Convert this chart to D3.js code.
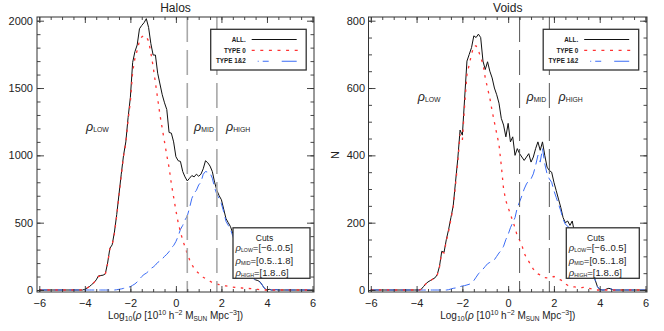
<!DOCTYPE html>
<html>
<head>
<meta charset="utf-8">
<script src="https://cdn.jsdelivr.net/npm/d3@7"></script>
<style>
body { margin: 0; background: #fff; }
svg text { font-family: "Liberation Sans", Arial, sans-serif; fill: #222; }
</style>
</head>
<body>
<svg id="chart" width="664" height="331"></svg>
<script>
// bins: log10(rho) from -4.2 to 4.6, step 0.1 (zero outside)
const binStart = -4.2, binStep = 0.1, binCount = 89;

const halosAll = [
  0, 0, 5, 15, 25, 40, 55, 75, 105, 108,
  110, 120, 200, 310, 335, 430, 560, 710, 860, 1000,
  1100, 1280, 1430, 1690, 1770, 1820, 1940, 1965, 1985, 2015,
  1950, 1830, 1745, 1745, 1610, 1530, 1450, 1390, 1340, 1170,
  1165, 1100, 990, 960, 955, 880, 840, 810, 830, 850,
  840, 860, 845, 860, 900, 960, 945, 920, 880, 800,
  740, 700, 670, 600, 530, 500, 470, 420, 370, 310,
  270, 230, 200, 170, 140, 110, 90, 75, 70, 60,
  35, 10, 0, 5, 0, 0, 3, 0, 0
];
const halosType0 = [
  0, 0, 5, 15, 25, 40, 55, 75, 100, 105,
  108, 118, 195, 305, 330, 420, 550, 700, 850, 990,
  1090, 1260, 1400, 1620, 1720, 1780, 1850, 1880, 1890, 1880,
  1850, 1760, 1660, 1540, 1420, 1300, 1200, 1100, 1000, 910,
  790, 690, 590, 500, 430, 370, 320, 270, 225, 190,
  160, 140, 125, 110, 95, 85, 75, 65, 55, 50,
  45, 40, 35, 32, 30, 28, 25, 22, 20, 18,
  16, 15, 14, 12, 11, 10, 8, 6, 4, 2,
  0, 0, 0, 0, 0, 0, 0, 0, 0
];
const halosType12 = [
  0, 0, 0, 0, 0, 0, 0, 0, 0, 0,
  0, 0, 0, 0, 0, 0, 2, 5, 8, 12,
  15, 20, 25, 35, 45, 60, 80, 100, 115, 125,
  140, 160, 170, 185, 205, 215, 230, 250, 265, 285,
  315, 330, 360, 400, 450, 480, 520, 550, 610, 680,
  720, 740, 780, 800, 860, 880, 875, 870, 830, 760,
  710, 680, 640, 580, 510, 480, 450, 400, 350, 300,
  260, 220, 190, 160, 130, 105, 85, 70, 65, 58,
  35, 10, 0, 5, 0, 0, 3, 0, 0
];

const voidsAll = [
  0, 0, 0, 0, 2, 10, 18, 24, 28, 32,
  36, 45, 70, 115, 112, 150, 180, 215, 250, 320,
  390, 475, 460, 570, 680, 700, 720, 755, 750, 760,
  750, 680, 655, 678, 650, 630, 600, 580, 555, 510,
  490, 455, 495, 440, 455, 400, 420, 405, 395, 385,
  395, 405, 380, 395, 420, 440, 415, 440, 400, 365,
  355, 350, 320, 295, 270, 245, 215, 200, 205, 192,
  205, 170, 150, 130, 110, 95, 80, 65, 55, 45,
  30, 10, 2, 0, 0, 3, 5, 3, 0
];
const voidsType0 = [
  0, 0, 0, 0, 2, 10, 18, 24, 28, 32,
  36, 44, 68, 112, 110, 145, 175, 210, 245, 312,
  380, 462, 445, 550, 640, 670, 700, 725, 725, 712,
  690, 672, 630, 600, 570, 532, 498, 465, 432, 370,
  300, 265, 245, 225, 205, 185, 160, 148, 133, 110,
  95, 85, 73, 62, 55, 48, 45, 40, 37, 36,
  35, 38, 40, 36, 32, 30, 25, 18, 14, 10,
  10, 9, 8, 7, 7, 8, 6, 5, 4, 2,
  0, 0, 0, 0, 0, 0, 0, 0, 0
];
const voidsType12 = [
  0, 0, 0, 0, 0, 0, 0, 0, 0, 0,
  0, 0, 0, 0, 0, 0, 1, 3, 5, 6,
  8, 10, 12, 13, 15, 17, 20, 28, 38, 48,
  55, 62, 70, 78, 82, 85, 90, 100, 110, 118,
  130, 150, 165, 185, 200, 215, 245, 262, 280, 300,
  315, 325, 330, 345, 370, 400, 380, 420, 375, 345,
  330, 320, 295, 275, 255, 235, 210, 195, 190, 180,
  165, 150, 140, 120, 100, 90, 75, 60, 50, 42,
  30, 10, 2, 0, 0, 3, 5, 3, 0
];

const xTicks = [-6, -4, -2, 0, 2, 4, 6];
const halosYTicks = [0, 500, 1000, 1500, 2000];
const voidsYTicks = [0, 200, 400, 600, 800];
const cutValues = [0.5, 1.8];
const cutsText = [
  { sub: "LOW", txt: "=[\u22126..0.5]" },
  { sub: "MID", txt: "=[0.5..1.8]" },
  { sub: "HIGH", txt: "=[1.8..6]" }
];
const legendNames = ["ALL.", "TYPE 0", "TYPE 1&2"];

const svg = d3.select("#chart");
const bins = d3.range(binCount).map(i => binStart + i * binStep);

function toPoints(vals) {
  return [[-6, 0]].concat(bins.map((b, i) => [b, vals[i]])).concat([[6, 0]]);
}

function rhoLabel(g, x, y, sub, rest, size) {
  let t = g.append("text").attr("x", x).attr("y", y).attr("font-size", size);
  t.append("tspan").text("\u03c1").attr("font-style", "italic");
  t.append("tspan").text(sub).attr("font-size", size * 0.55).attr("dy", 1);
  if (rest) t.append("tspan").text(rest).attr("dy", -1);
  return t;
}

function drawPanel(o) {
  let x = d3.scaleLinear().domain([-6, 6]).range([o.fx0 + 2.3, o.fx1 - 1.5]);
  let y = d3.scaleLinear().domain([0, o.yMax]).range([290, 20.7]);
  let g = svg.append("g");

  let clipId = "clip" + o.id;
  g.append("clipPath").attr("id", clipId).append("rect")
    .attr("x", o.fx0).attr("y", o.fy0).attr("width", o.fx1 - o.fx0).attr("height", o.fy1 - o.fy0);

  let line = d3.line().x(d => x(d[0])).y(d => y(d[1]));
  let plot = g.append("g").attr("clip-path", "url(#" + clipId + ")");

  plot.append("path").datum(toPoints(o.all))
    .attr("d", line).attr("fill", "none").attr("stroke", "#111").attr("stroke-width", 1);
  plot.append("path").datum(toPoints(o.t12))
    .attr("d", line).attr("fill", "none").attr("stroke", "#3b6cf5").attr("stroke-width", 1)
    .attr("stroke-dasharray", "10,5");
  plot.append("path").datum(toPoints(o.t0))
    .attr("d", line).attr("fill", "none").attr("stroke", "#ff3333").attr("stroke-width", 1.3)
    .attr("stroke-dasharray", "2.5,5.5");

  // density cuts
  plot.selectAll(".cut").data(cutValues).enter().append("line")
    .attr("x1", d => x(d)).attr("x2", d => x(d))
    .attr("y1", o.fy0).attr("y2", o.fy1)
    .attr("stroke", o.cutColor).attr("stroke-width", o.cutWidth)
    .attr("stroke-dasharray", "25,8");

  // axes (inward ticks, IDL style)
  let xMinor = d3.range(-6, 6.01, 0.5);
  let yMinor = d3.range(0, o.yMax + 1, o.yMinorStep);
  function axis(gen, tr) {
    let a = g.append("g").attr("transform", tr).call(gen);
    a.select(".domain").remove();
    a.attr("font-family", null).attr("font-size", null);
    a.selectAll("line").attr("stroke", "#333").attr("stroke-width", 0.9);
    a.selectAll("text").attr("font-size", 11).attr("fill", "#222");
    return a;
  }
  axis(d3.axisBottom(x).tickValues(xMinor).tickSizeInner(-3).tickSizeOuter(0).tickFormat(""), `translate(0,${o.fy1})`);
  axis(d3.axisTop(x).tickValues(xMinor).tickSizeInner(-3).tickSizeOuter(0).tickFormat(""), `translate(0,${o.fy0})`);
  axis(d3.axisBottom(x).tickValues(xTicks).tickSizeInner(-6).tickSizeOuter(0).tickPadding(7), `translate(0,${o.fy1})`);
  axis(d3.axisTop(x).tickValues(xTicks).tickSizeInner(-6).tickSizeOuter(0).tickFormat(""), `translate(0,${o.fy0})`);
  axis(d3.axisLeft(y).tickValues(yMinor).tickSizeInner(-3.5).tickSizeOuter(0).tickFormat(""), `translate(${o.fx0},0)`);
  axis(d3.axisRight(y).tickValues(yMinor).tickSizeInner(-3.5).tickSizeOuter(0).tickFormat(""), `translate(${o.fx1},0)`);
  axis(d3.axisLeft(y).tickValues(o.yTicks).tickSizeInner(-7).tickSizeOuter(0).tickPadding(o.yPad).tickFormat(d3.format("d")), `translate(${o.fx0},0)`);
  axis(d3.axisRight(y).tickValues(o.yTicks).tickSizeInner(-7).tickSizeOuter(0).tickFormat(""), `translate(${o.fx1},0)`);

  g.append("rect").attr("x", o.fx0).attr("y", o.fy0)
    .attr("width", o.fx1 - o.fx0).attr("height", o.fy1 - o.fy0)
    .attr("fill", "none").attr("stroke", "#333").attr("stroke-width", 1);

  // title
  g.append("text").attr("x", (o.fx0 + o.fx1) / 2).attr("y", 12)
    .attr("text-anchor", "middle").attr("font-size", 12).text(o.title);

  // x label
  let xl = g.append("text").attr("x", (o.fx0 + o.fx1) / 2).attr("y", 319)
    .attr("text-anchor", "middle").attr("font-size", 10);
  xl.append("tspan").text("Log");
  xl.append("tspan").text("10").attr("font-size", 7).attr("dy", 2);
  xl.append("tspan").text("(").attr("dy", -2);
  xl.append("tspan").text("\u03c1").attr("font-style", "italic");
  xl.append("tspan").text(" [10");
  xl.append("tspan").text("10").attr("font-size", 7).attr("dy", -4);
  xl.append("tspan").text(" h").attr("dy", 4);
  xl.append("tspan").text("\u22122").attr("font-size", 7).attr("dy", -4);
  xl.append("tspan").text(" M").attr("dy", 4);
  xl.append("tspan").text("SUN").attr("font-size", 6.5).attr("dy", 2);
  xl.append("tspan").text(" Mpc").attr("dy", -2);
  xl.append("tspan").text("\u22123").attr("font-size", 7).attr("dy", -4);
  xl.append("tspan").text("])").attr("dy", 4);

  if (o.yLabel) {
    g.append("text").attr("transform", `translate(${o.fx0 - 30},155) rotate(-90)`)
      .attr("text-anchor", "middle").attr("font-size", 11).text(o.yLabel);
  }

  // region labels
  rhoLabel(g, x(-3.95), o.rhoY, "LOW", null, 12.5);
  rhoLabel(g, x(0.8), o.rhoY, "MID", null, 12.5);
  rhoLabel(g, x(2.2), o.rhoY, "HIGH", null, 12.5);

  // legend box
  let lg = g.append("g");
  lg.append("rect").attr("x", o.lx0).attr("y", 29.3).attr("width", 95.5).attr("height", 40.7)
    .attr("fill", "#fff").attr("stroke", "#333").attr("stroke-width", 1.3);
  let rows = [39.5, 50.3, 61.2];
  legendNames.forEach((n, i) => {
    lg.append("text").attr("x", o.lx0 + 35).attr("y", rows[i] + 2.2)
      .attr("text-anchor", "end").attr("font-size", 6.3).attr("font-weight", "bold").text(n);
  });
  lg.append("line").attr("x1", o.lx0 + 41).attr("x2", o.lx0 + 86).attr("y1", rows[0]).attr("y2", rows[0])
    .attr("stroke", "#111").attr("stroke-width", 1);
  lg.append("line").attr("x1", o.lx0 + 41).attr("x2", o.lx0 + 87).attr("y1", rows[1]).attr("y2", rows[1])
    .attr("stroke", "#ff3333").attr("stroke-width", 1.3).attr("stroke-dasharray", "3,5.6");
  lg.append("line").attr("x1", o.lx0 + 47).attr("x2", o.lx0 + 86).attr("y1", rows[2]).attr("y2", rows[2])
    .attr("stroke", "#3b6cf5").attr("stroke-width", 1.1).attr("stroke-dasharray", "1,4,6,13,16");

  // cuts box
  let cb = g.append("g");
  cb.append("rect").attr("x", o.cx0).attr("y", 227.8).attr("width", o.cw).attr("height", 50.5)
    .attr("fill", "#fff").attr("stroke", "#333").attr("stroke-width", 1.3);
  cb.append("text").attr("x", o.cx0 + o.cw / 2 - 7).attr("y", 240.5)
    .attr("text-anchor", "middle").attr("font-size", 8.5).text("Cuts");
  let crow = [252, 264.5, 277];
  cutsText.forEach((c, i) => {
    rhoLabel(cb, o.cx0 + 2.5, crow[i] - 1, c.sub, c.txt, 9.5);
  });
}

drawPanel({
  id: "h", title: "Halos", fx0: 37, fx1: 314, fy0: 17, fy1: 292,
  yMax: 2000, yTicks: halosYTicks, yMinorStep: 100, yPad: 4,
  all: halosAll, t0: halosType0, t12: halosType12,
  cutColor: "#a8a8a8", cutWidth: 1.6, rhoY: 131,
  lx0: 210.7, cx0: 233, cw: 77
});
drawPanel({
  id: "v", title: "Voids", fx0: 368.5, fx1: 647, fy0: 17, fy1: 292,
  yMax: 800, yTicks: voidsYTicks, yMinorStep: 50, yPad: 3.5,
  all: voidsAll, t0: voidsType0, t12: voidsType12,
  cutColor: "#555", cutWidth: 1, rhoY: 100.5, yLabel: "N",
  lx0: 543.2, cx0: 566.3, cw: 73
});
</script>
</body>
</html>
